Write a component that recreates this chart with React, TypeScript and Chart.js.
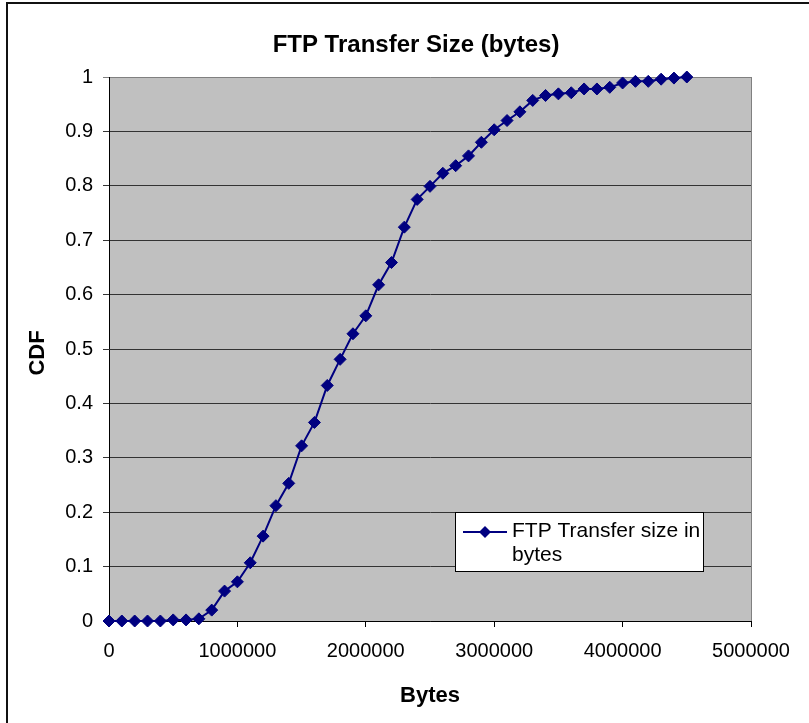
import { useEffect, useRef } from 'react';
import { Chart, registerables } from 'chart.js';

Chart.register(...registerables);

const FONT = '"Liberation Sans", Arial, sans-serif';

const chartTitle = 'FTP Transfer Size (bytes)';
const xAxisTitle = 'Bytes';
const yAxisTitle = 'CDF';
const seriesLabel = 'FTP Transfer size in bytes';

const bytes = [
  0, 100000, 200000, 300000, 400000, 500000, 600000, 700000, 800000, 900000,
  1000000, 1100000, 1200000, 1300000, 1400000, 1500000, 1600000, 1700000, 1800000, 1900000,
  2000000, 2100000, 2200000, 2300000, 2400000, 2500000, 2600000, 2700000, 2800000, 2900000,
  3000000, 3100000, 3200000, 3300000, 3400000, 3500000, 3600000, 3700000, 3800000, 3900000,
  4000000, 4100000, 4200000, 4300000, 4400000, 4500000,
];

const cdf = [
  0, 0, 0, 0, 0, 0.002, 0.002, 0.004, 0.02, 0.055,
  0.072, 0.107, 0.156, 0.212, 0.253, 0.322, 0.365, 0.433, 0.481, 0.528,
  0.561, 0.618, 0.659, 0.724, 0.775, 0.799, 0.823, 0.837, 0.855, 0.88,
  0.903, 0.92, 0.936, 0.957, 0.966, 0.969, 0.971, 0.978, 0.978, 0.981,
  0.989, 0.992, 0.992, 0.996, 0.998, 1.0,
];

const xTickLabels = ['0', '1000000', '2000000', '3000000', '4000000', '5000000'];
const yTickLabels = ['0', '0.1', '0.2', '0.3', '0.4', '0.5', '0.6', '0.7', '0.8', '0.9', '1'];

const NAVY = '#000080';

function wrapText(ctx: CanvasRenderingContext2D, text: string, maxW: number): string[] {
  const words = text.split(' ');
  const lines: string[] = [];
  let cur = '';
  for (const w of words) {
    const test = cur ? cur + ' ' + w : w;
    if (ctx.measureText(test).width > maxW && cur) {
      lines.push(cur);
      cur = w;
    } else {
      cur = test;
    }
  }
  if (cur) lines.push(cur);
  return lines;
}

const decorPlugin = {
  id: 'decor',
  beforeDraw(chart: any) {
    const { ctx, chartArea: a } = chart;
    ctx.save();
    ctx.fillStyle = '#ffffff';
    ctx.fillRect(0, 0, chart.width, chart.height);
    ctx.fillStyle = '#C0C0C0';
    ctx.fillRect(a.left, a.top, a.right - a.left, a.bottom - a.top);

    // outer chart border (top and left visible)
    ctx.strokeStyle = '#111111';
    ctx.lineWidth = 2;
    ctx.beginPath();
    ctx.moveTo(7, chart.height + 2);
    ctx.lineTo(7, 3);
    ctx.lineTo(chart.width + 2, 3);
    ctx.stroke();

    ctx.fillStyle = '#000';
    ctx.textAlign = 'center';
    ctx.textBaseline = 'alphabetic';
    ctx.font = `bold 24px ${FONT}`;
    ctx.fillText(chartTitle, 416, 52);

    ctx.font = `bold 22px ${FONT}`;
    ctx.fillText(xAxisTitle, (a.left + a.right) / 2, 702);

    ctx.save();
    ctx.translate(44, 353);
    ctx.rotate(-Math.PI / 2);
    ctx.fillText(yAxisTitle, 0, 0);
    ctx.restore();
    ctx.restore();
  },
  beforeDatasetsDraw(chart: any) {
    const { ctx, chartArea: a } = chart;
    ctx.save();
    ctx.strokeStyle = '#808080';
    ctx.lineWidth = 1;
    ctx.beginPath();
    ctx.moveTo(Math.round(a.right) + 0.5, a.top);
    ctx.lineTo(Math.round(a.right) + 0.5, a.bottom);
    ctx.stroke();
    ctx.restore();
  },
  afterDraw(chart: any) {
    const { ctx } = chart;
    ctx.save();
    // legend box
    const bx = 455, by = 512, bw = 248, bh = 59;
    ctx.fillStyle = '#ffffff';
    ctx.fillRect(bx, by, bw, bh);
    ctx.strokeStyle = '#000';
    ctx.lineWidth = 1;
    ctx.strokeRect(bx + 0.5, by + 0.5, bw, bh);

    // sample line
    ctx.strokeStyle = NAVY;
    ctx.lineWidth = 2;
    ctx.beginPath();
    ctx.moveTo(463, 532);
    ctx.lineTo(507, 532);
    ctx.stroke();
    ctx.fillStyle = NAVY;
    ctx.beginPath();
    const r = 6;
    ctx.moveTo(485, 532 - r);
    ctx.lineTo(485 + r, 532);
    ctx.lineTo(485, 532 + r);
    ctx.lineTo(485 - r, 532);
    ctx.closePath();
    ctx.fill();

    ctx.fillStyle = '#000';
    ctx.font = `21px ${FONT}`;
    ctx.textAlign = 'left';
    ctx.textBaseline = 'middle';
    const lines = wrapText(ctx, chart.data.datasets[0].label, 190);
    lines.forEach((ln, i) => ctx.fillText(ln, 512, 531 + i * 24));
    ctx.restore();
  },
};

export default function App() {
  const ref = useRef<HTMLCanvasElement | null>(null);

  useEffect(() => {
    if (!ref.current) return;
    const points = bytes.map((b, i) => ({ x: b, y: cdf[i] }));
    const chart = new Chart(ref.current, {
      type: 'line',
      data: {
        datasets: [
          {
            label: seriesLabel,
            data: points,
            borderColor: NAVY,
            backgroundColor: NAVY,
            borderWidth: 2,
            pointStyle: 'rectRot',
            pointRadius: 6,
            pointBorderWidth: 1,
            pointBackgroundColor: NAVY,
            pointBorderColor: NAVY,
            tension: 0,
            clip: false as any,
          },
        ],
      },
      options: {
        responsive: false,
        animation: false,
        events: [],
        layout: { padding: { left: 0, right: 58, top: 77, bottom: 0 } },
        plugins: {
          legend: { display: false },
          tooltip: { enabled: false },
          title: { display: false },
        },
        scales: {
          x: {
            type: 'linear',
            min: 0,
            max: 5000000,
            ticks: {
              stepSize: 1000000,
              autoSkip: false,
              maxRotation: 0,
              color: '#000',
              padding: 12,
              font: { family: FONT, size: 20 },
              callback: (_v: any, i: number) => xTickLabels[i],
            },
            grid: {
              drawOnChartArea: false,
              drawTicks: true,
              tickLength: 6,
              color: '#000',
            },
            border: { color: '#000', width: 1 },
            afterFit: (s: any) => {
              s.height = 102;
            },
          },
          y: {
            min: 0,
            max: 1,
            ticks: {
              stepSize: 0.1,
              autoSkip: false,
              color: '#000',
              padding: 10,
              font: { family: FONT, size: 20 },
              callback: (_v: any, i: number) => yTickLabels[i],
            },
            grid: {
              tickLength: 6,
              color: (c: any) => (c.tick && c.tick.value === 1 ? '#808080' : '#333333'),
            },
            border: { color: '#000', width: 1 },
            afterFit: (s: any) => {
              s.width = 109;
            },
          },
        },
      },
      plugins: [decorPlugin],
    });
    return () => chart.destroy();
  }, []);

  return (
    <div style={{ position: 'absolute', left: 0, top: 0, width: 809, height: 723, background: '#fff' }}>
      <canvas ref={ref} width={809} height={723} style={{ display: 'block' }} />
    </div>
  );
}
